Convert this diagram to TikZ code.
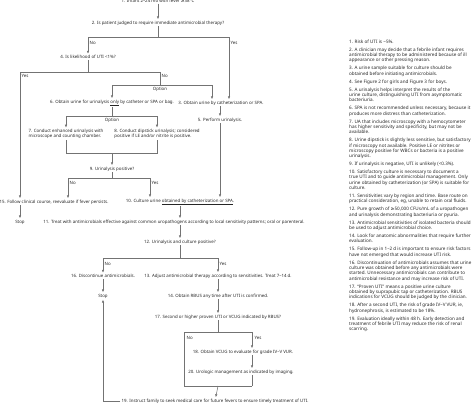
\documentclass[tikz,border=0pt]{standalone}
\usepackage{fontspec}
\setmainfont{Noto Sans}
\newfontfamily\symfont{DejaVu Sans}
\usepackage{tikz}
\usetikzlibrary{arrows.meta, positioning}

\newcommand{\mainfs}{\fontsize{4.4}{5.2}\selectfont}
\newcommand{\notefs}{\fontsize{4.6}{5.35}\selectfont}
\newcommand{\geqsym}{{\symfont ≥}}

\begin{document}
\begin{tikzpicture}[
    x=1pt, y=-1pt,
    txt/.style={inner sep=1pt, font=\mainfs, text=black!85},
    lbl/.style={inner sep=0.5pt, anchor=west, font=\mainfs, text=black!85},
    ln/.style={draw=black!55, line width=0.5pt},
    arr/.style={ln, -{Latex[length=3pt,width=2.4pt]}, shorten >=0.3pt}
]
\useasboundingbox (0,0) rectangle (474,405);

% questions and steps
\node[txt] (q1) at (158,0.8) {1. Infant 2--24 mo with fever \geqsym38°C};
\node[txt] (q2) at (158,23) {2. Is patient judged to require immediate antimicrobial therapy?};
\node[txt] (q4) at (88,57) {4. Is likelihood of UTI <1\%?};
\node[txt] (s6) at (112,103) {6. Obtain urine for urinalysis \underline{only} by catheter or SPA or bag.};
\node[txt] (s3) at (221,103) {3. Obtain urine by catheterization or SPA.};
\node[txt] (s5) at (220,120) {5. Perform urinalysis.};
\node[txt, align=left] (s7) at (66,134) {7. Conduct enhanced urinalysis with\\microscope and counting chamber.};
\node[txt, align=left] (s8) at (157,134) {8. Conduct dipstick urinalysis; considered\\positive if LE and/or nitrite is positive.};
\node[txt] (q9) at (112,169) {9. Urinalysis positive?};
\node[txt] (s15) at (54,202) {15. Follow clinical course, reevaluate if fever persists.};
\node[txt] (s10) at (180,202) {10. Culture urine \underline{obtained by catheterization or SPA}.};
\node[txt] (stopa) at (20,222) {Stop};
\node[txt] (s11) at (174,222) {11. Treat with antimicrobials effective against common uropathogens according to local sensitivity patterns; oral or parenteral.};
\node[txt] (q12) at (180,242) {12. Urinalysis and culture positive?};
\node[txt] (s16) at (103,276) {16. Discontinue antimicrobials.};
\node[txt] (s13) at (218,276) {13. Adjust antimicrobial therapy according to sensitivities. Treat 7--14 d.};
\node[txt] (stopb) at (103,296) {Stop};
\node[txt] (s14) at (218,296) {14. Obtain RBUS any time after UTI is confirmed.};
\node[txt] (q17) at (218,317) {17. Second or higher proven UTI or VCUG indicated by RBUS?};
\node[txt] (s18) at (243,352) {18. Obtain VCUG to evaluate for grade IV--V VUR.};
\node[txt] (s20) at (241,372) {20. Urologic management as indicated by imaging.};
\node[txt] (s19) at (215,401) {19. Instruct family to seek medical care for future fevers to ensure timely treatment of UTI.};

% branch labels
\node[lbl] (no2) at (89,43) {No};
\node[lbl] (yes2) at (230,43) {Yes};
\node[lbl] (yes4) at (21,76) {Yes};
\node[lbl] (no4) at (161,76) {No};
\node[txt] (opt1) at (160,89.5) {Option};
\node[txt] (opt2) at (112,120.5) {Option};
\node[lbl] (no9) at (69,183) {No};
\node[lbl] (yes9) at (151,183) {Yes};
\node[lbl] (no12) at (104,264) {No};
\node[lbl] (yes12) at (219,264) {Yes};
\node[lbl] (no17) at (186,338) {No};
\node[lbl] (yes17) at (254,338) {Yes};

% junctions
\coordinate (j2) at (158,37);
\coordinate (j2l) at (88,37);
\coordinate (j2r) at (229,37);
\coordinate (j4) at (88,72);
\coordinate (j4l) at (20,72);
\coordinate (j4r) at (160,72);
\coordinate (jo) at (160,85);
\coordinate (jol) at (112,85);
\coordinate (jor) at (212,85);
\coordinate (j6) at (112,116);
\coordinate (j6l) at (66,116);
\coordinate (j6r) at (157,116);
\coordinate (j78) at (112,153);
\coordinate (j78l) at (66,153);
\coordinate (j78r) at (157,153);
\coordinate (j9) at (112,178);
\coordinate (j9l) at (68,178);
\coordinate (j9r) at (150,178);
\coordinate (j12) at (180,258);
\coordinate (j12l) at (103,258);
\coordinate (j12r) at (218,258);
\coordinate (jb) at (218,332);
\coordinate (bl) at (184,332);
\coordinate (bll) at (184,386);
\coordinate (br) at (252,332);
\coordinate (brr) at (252,386);
\coordinate (jbb) at (218,386);
\coordinate (jc) at (103,401);

% connectors
\draw[arr] (q1) -- (q2);
\draw[ln] (q2) -- (j2);
\draw[ln] (j2l) -- (j2r);
\draw[arr] (j2l) -- (q4);
\draw[arr] (j2r) -- (j2r |- s3.north);
\draw[ln] (q4) -- (j4);
\draw[ln] (j4l) -- (j4r);
\draw[arr] (j4l) -- (j4l |- s15.north);
\draw[ln] (j4r) -- (jo);
\draw[ln] (jol) -- (jor);
\draw[arr] (jol) -- (s6);
\draw[arr] (jor) -- (jor |- s3.north);
\draw[arr] (s3.south -| s5) -- (s5);
\draw[ln] (s6) -- (j6);
\draw[ln] (j6l) -- (j6r);
\draw[arr] (j6l) -- (s7);
\draw[arr] (j6r) -- (s8);
\draw[ln] (s7) -- (j78l) -- (j78r) -- (s8);
\draw[arr] (j78) -- (q9);
\draw[ln] (q9) -- (j9);
\draw[ln] (j9l) -- (j9r);
\draw[arr] (j9l) -- (j9l |- s15.north);
\draw[arr] (j9r) -- (j9r |- s10.north);
\draw[arr] (s5) -- (s5 |- s10.north);
\draw[arr] (s15.south -| stopa) -- (stopa);
\draw[arr] (s10) -- (s10 |- s11.north);
\draw[arr] (s11.south -| q12) -- (q12);
\draw[ln] (q12) -- (j12);
\draw[ln] (j12l) -- (j12r);
\draw[arr] (j12l) -- (s16);
\draw[arr] (j12r) -- (s13);
\draw[arr] (s16) -- (stopb);
\draw[arr] (s13) -- (s14);
\draw[arr] (s14) -- (q17);
\draw[ln] (q17) -- (jb);
\draw[ln] (jb) -- (bl) -- (bll) -- (brr);
\draw[arr] (jb) -- (br) -- (br |- s18.north);
\draw[arr] (s18.south -| br) -- (br |- s20.north);
\draw[ln] (s20.south -| br) -- (brr);
\draw[arr] (jbb) -- (s19);
\draw[arr] (s19.west) -- (jc) -- (stopb);

% notes
\node[anchor=north west, inner sep=0pt, align=left, font=\notefs, text=black!85] (notes) at (349,39.5) {%
1. Risk of UTI is \textasciitilde5\%.\\[2.6pt]
2. A clinician may decide that a febrile infant requires\\
antimicrobial therapy to be administered because of ill\\
appearance or other pressing reason.\\[2.6pt]
3. A urine sample suitable for culture should be\\
obtained before initiating antimicrobials.\\[2.6pt]
4. See Figure 2 for girls and Figure 3 for boys.\\[2.6pt]
5. A urinalysis helps interpret the results of the\\
urine culture, distinguishing UTI from asymptomatic\\
bacteriuria.\\[2.6pt]
6. SPA is not recommended unless necessary, because it\\
produces more distress than catheterization.\\[2.6pt]
7. UA that includes microscopy with a hemocytometer\\
has higher sensitivity and specificity, but may not be\\
available.\\[2.6pt]
8. Urine dipstick is slightly less sensitive, but satisfactory\\
if microscopy not available. Positive LE or nitrites or\\
microscopy positive for WBCs or bacteria is a positive\\
urinalysis.\\[2.6pt]
9. If urinalysis is negative, UTI is unlikely (<0.3\%).\\[2.6pt]
10. Satisfactory culture is necessary to document a\\
true UTI and to guide antimicrobial management. Only\\
urine obtained by catheterization (or SPA) is suitable for\\
culture.\\[2.6pt]
11. Sensitivities vary by region and time. Base route on\\
practical consideration, eg, unable to retain oral fluids.\\[2.6pt]
12. Pure growth of \geqsym50,000 CFUs/mL of a uropathogen\\
and urinalysis demonstrating bacteriuria or pyuria.\\[2.6pt]
13. Antimicrobial sensitivities of isolated bacteria should\\
be used to adjust antimicrobial choice.\\[2.6pt]
14. Look for anatomic abnormalities that require further\\
evaluation.\\[2.6pt]
15. Follow-up in 1--2 d is important to ensure risk factors\\
have not emerged that would increase UTI risk.\\[2.6pt]
16. Discontinuation of antimicrobials assumes that urine\\
culture was obtained before any antimicrobials were\\
started. Unnecessary antimicrobials can contribute to\\
antimicrobial resistance and may increase risk of UTI.\\[2.6pt]
17. “Proven UTI” means a positive urine culture\\
obtained by suprapubic tap or catheterization. RBUS\\
indications for VCUG should be judged by the clinician.\\[2.6pt]
18. After a second UTI, the risk of grade IV--V VUR, ie,\\
hydronephrosis, is estimated to be 18\%.\\[2.6pt]
19. Evaluation ideally within 48 h. Early detection and\\
treatment of febrile UTI may reduce the risk of renal\\
scarring.};
\end{tikzpicture}
\end{document}
